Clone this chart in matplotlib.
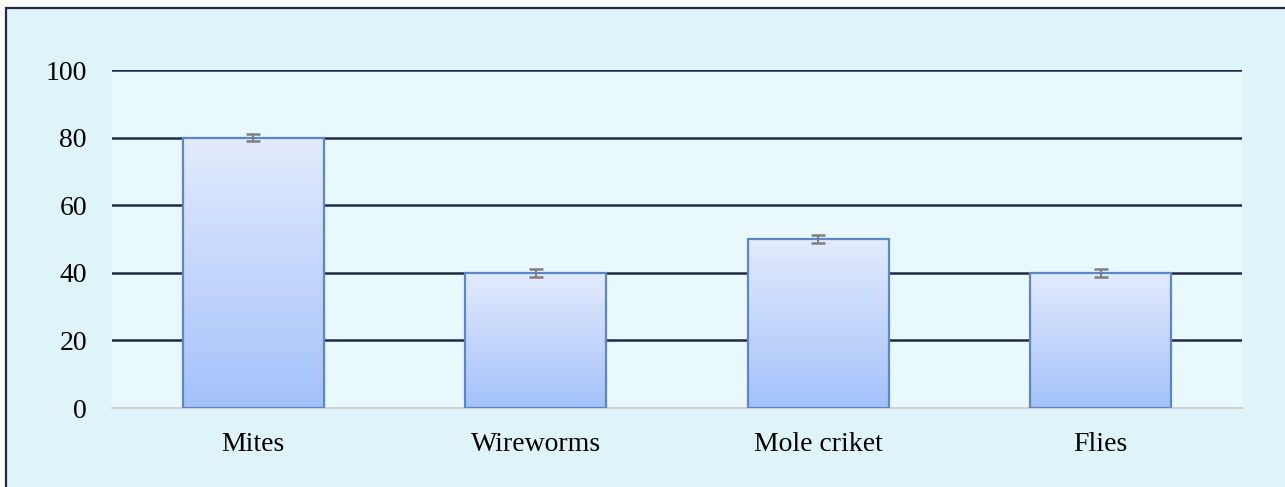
import matplotlib
matplotlib.use("Agg")
import matplotlib.pyplot as plt
import numpy as np
from matplotlib.patches import Rectangle

categories = ["Mites", "Wireworms", "Mole criket", "Flies"]
values = [80, 40, 50, 40]
errors = [1.1, 1.1, 1.1, 1.1]
yticks = [0, 20, 40, 60, 80, 100]

plt.rcParams['font.family'] = ['Liberation Serif', 'DejaVu Serif']

W, H = 1285, 487
fig = plt.figure(figsize=(W / 100, H / 100), dpi=100)
fig.patch.set_facecolor("white")

# outer frame
frame = Rectangle((6 / W, -0.1), 1.2, (H - 8) / H + 0.1, transform=fig.transFigure,
                  facecolor="#dff4f9", edgecolor="#1f2a44", linewidth=1.6, zorder=-5)
fig.patches.append(frame)

ax = fig.add_axes([112 / W, 1 - 408 / H, (1242 - 112) / W, (408 - 70) / H])
ax.set_zorder(1)
ax.set_facecolor("#e9f8fc")

for s in ["top", "right", "left"]:
    ax.spines[s].set_visible(False)
ax.spines["bottom"].set_color("#d0d0d0")
ax.spines["bottom"].set_linewidth(1.5)

for t in yticks[1:]:
    ax.axhline(t, color="#1f2a44", linewidth=1.8, zorder=1)

x = np.arange(len(categories))
bars = ax.bar(x, values, width=0.5, facecolor="none", edgecolor="#5b86c8",
              linewidth=1.6, zorder=3)

grad = np.linspace(0, 1, 256).reshape(-1, 1)
top = np.array([0.89, 0.92, 0.99])
bot = np.array([0.64, 0.76, 0.98])
img = top[None, None, :] * (1 - grad[:, :, None]) + bot[None, None, :] * grad[:, :, None]
for b in bars:
    x0, y0 = b.get_x(), b.get_y()
    w, h = b.get_width(), b.get_height()
    im = ax.imshow(img, extent=[x0, x0 + w, y0, y0 + h], aspect="auto",
                   origin="upper", zorder=2)
    im.set_clip_path(b)
ax.set_xlim(-0.5, len(categories) - 0.5)
ax.set_ylim(0, 100)

ax.errorbar(x, values, yerr=errors, fmt="none", ecolor="#808080",
            elinewidth=1.5, capsize=5, capthick=1.8, zorder=4)

ax.set_xticks(x)
ax.set_xticklabels(categories)
ax.set_yticks(yticks)
ax.tick_params(axis="both", length=0, labelsize=20, colors="black")
ax.tick_params(axis="x", pad=17)
ax.tick_params(axis="y", pad=18)

fig.savefig("out.png", dpi=100)
